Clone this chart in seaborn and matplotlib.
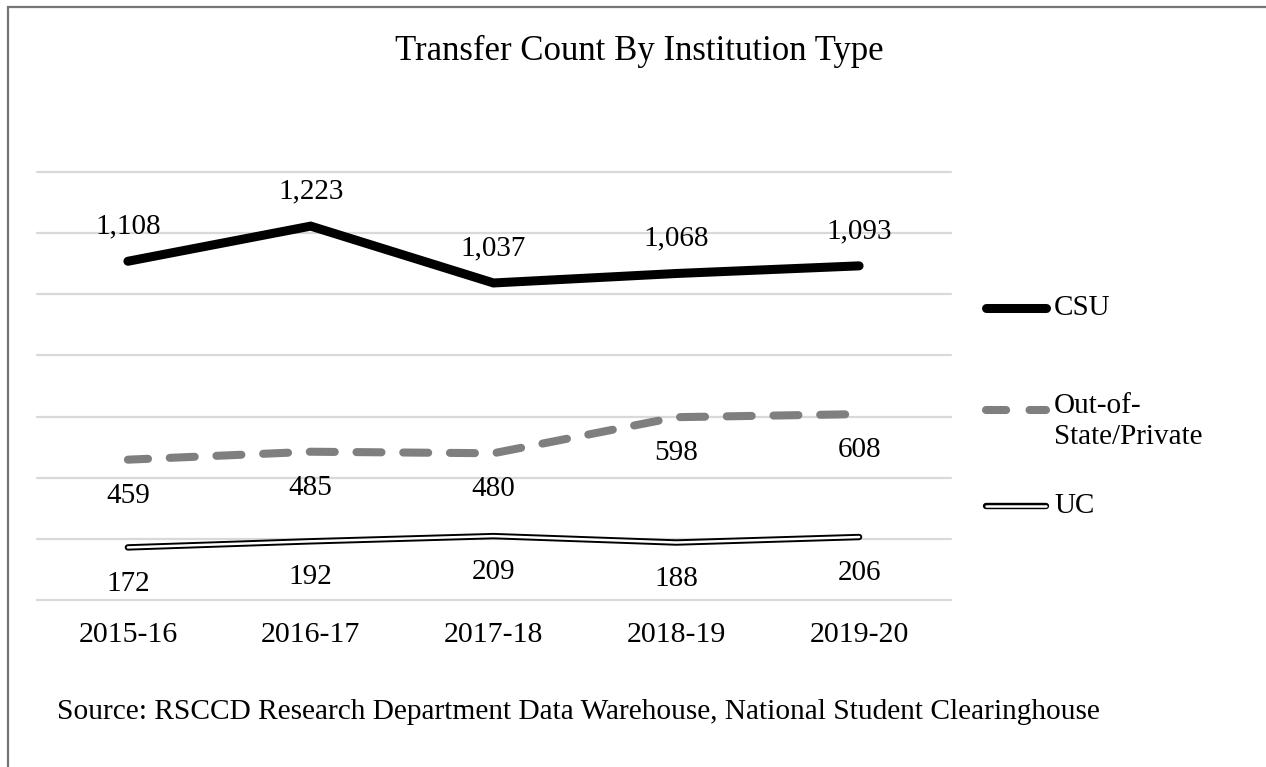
import matplotlib
matplotlib.use("Agg")
import matplotlib.pyplot as plt
import matplotlib.patheffects as pe
from matplotlib.lines import Line2D
from matplotlib.patches import Rectangle
import seaborn as sns
import pandas as pd

# Data
years = ["2015-16", "2016-17", "2017-18", "2018-19", "2019-20"]
csu = [1108, 1223, 1037, 1068, 1093]
out_of_state = [459, 485, 480, 598, 608]
uc = [172, 192, 209, 188, 206]

sns.set_theme(style="white")
plt.rcParams["font.family"] = ["Liberation Serif", "DejaVu Serif"]
plt.rcParams["text.color"] = "black"
plt.rcParams["xtick.color"] = "black"

fig = plt.figure(figsize=(12.66, 7.67), dpi=100)
ax = fig.add_axes([36.5 / 1266, 1 - 600 / 767, (950.5 - 36.5) / 1266, (600 - 172) / 767])

df = pd.DataFrame({"Year": years, "CSU": csu, "Out": out_of_state, "UC": uc})
x = list(range(len(years)))
df["x"] = x

dash = (0.6, (3.1, 2.7))

# CSU - thick black
sns.lineplot(data=df, x="x", y="CSU", ax=ax, color="black", linewidth=6.5,
             solid_capstyle="round", solid_joinstyle="miter", zorder=4)
# Out-of-State/Private - gray dashed
sns.lineplot(data=df, x="x", y="Out", ax=ax, color="#7f7f7f", linewidth=5.8,
             dashes=False, zorder=3)
out_line = ax.lines[-1]
out_line.set_linestyle(dash)
out_line.set_dash_capstyle("round")
# UC - double line (black outline, white core)
sns.lineplot(data=df, x="x", y="UC", ax=ax, color="white", linewidth=1.8, zorder=3)
uc_line = ax.lines[-1]
uc_line.set_solid_capstyle("round")
uc_effects = [pe.Stroke(linewidth=4.6, foreground="black", capstyle="round"), pe.Normal()]
uc_line.set_path_effects(uc_effects)

# data labels
for xi, v in zip(x, csu):
    ax.annotate(f"{v:,}", (xi, v), xytext=(0, 25), textcoords="offset points",
                ha="center", va="center", fontsize=21, color="black")
for xi, v in zip(x, out_of_state):
    ax.annotate(f"{v:,}", (xi, v), xytext=(0, -26), textcoords="offset points",
                ha="center", va="center", fontsize=21, color="black")
for xi, v in zip(x, uc):
    ax.annotate(f"{v:,}", (xi, v), xytext=(0, -26), textcoords="offset points",
                ha="center", va="center", fontsize=21, color="black")

ax.set_xlim(-0.5, len(years) - 0.5)
ax.set_ylim(0, 1400)
ax.set_yticks(range(0, 1401, 200))
ax.set_yticklabels([])
ax.set_xticks(x)
ax.set_xticklabels(years, fontsize=21.5, color="black")
ax.tick_params(axis="x", length=0, pad=16)
ax.tick_params(axis="y", length=0)
ax.set_xlabel("")
ax.set_ylabel("")
ax.grid(axis="y", color="#d9d9d9", linewidth=1.6)
ax.grid(axis="x", visible=False)
for gl in ax.get_ygridlines():
    gl.set_clip_on(False)
for s in ax.spines.values():
    s.set_visible(False)

# legend drawn at the right
def fx(px):
    return px / 1266

def fy(py):
    return 1 - py / 767

leg_items = [
    ("CSU", 308, dict(color="black", linewidth=6.5, solid_capstyle="round")),
    ("Out-of-\nState/Private", 410, dict(color="#7f7f7f", linewidth=5.8,
                                         linestyle=(0.3, (2.8, 2.9)), dash_capstyle="round")),
    ("UC", 506, dict(color="white", linewidth=1.8, solid_capstyle="round",
                     path_effects=uc_effects)),
]
for label, ypx, style in leg_items:
    fig.add_artist(Line2D([fx(986), fx(1046)], [fy(ypx), fy(ypx)], **style))
    if "\n" in label:
        fig.text(fx(1054), fy(ypx - 17), label, fontsize=21, va="top", ha="left",
                 linespacing=1.25, color="black")
    else:
        fig.text(fx(1054), fy(ypx), label, fontsize=21, va="center", ha="left",
                 color="black")

fig.suptitle("Transfer Count By Institution Type", x=fx(639), y=fy(51), va="center",
             fontsize=25, color="black")
fig.text(fx(57), fy(712), "Source: RSCCD Research Department Data Warehouse, National Student Clearinghouse",
         fontsize=21.2, va="center", ha="left", color="black")

# chart frame
fig.add_artist(Rectangle((fx(8), fy(900)), 1.2, fy(7) - fy(900), transform=fig.transFigure,
                         fill=False, edgecolor="#767676", linewidth=1.6))

fig.savefig("out.png", dpi=100)
